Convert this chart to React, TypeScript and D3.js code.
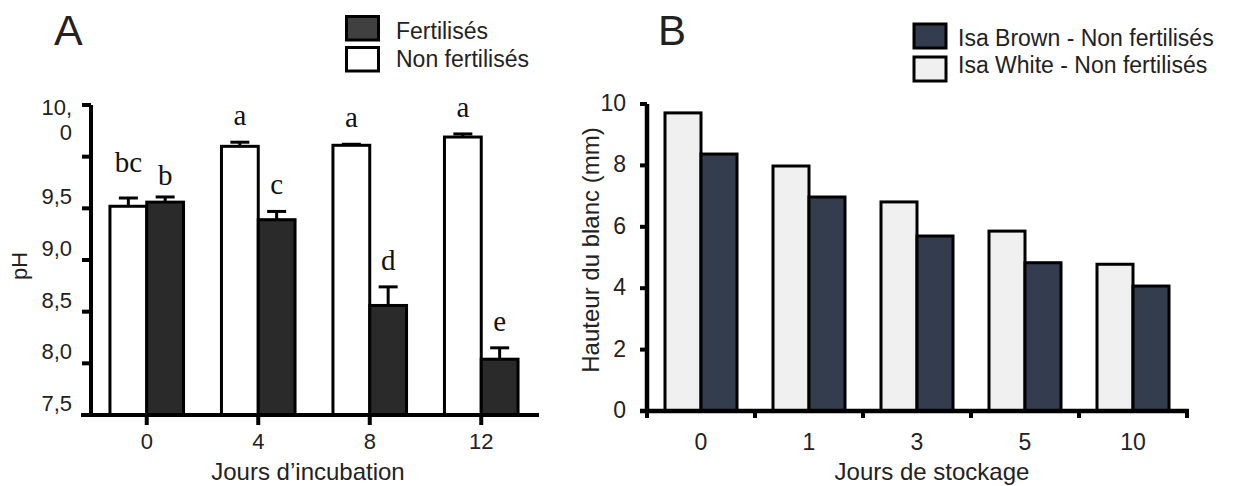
import React from "react";
import * as d3 from "d3";

// Panel A : pH du blanc pendant l'incubation
const daysA = ["0", "4", "8", "12"];
const seriesA = ["Fertilisés", "Non fertilisés"];
const nonFertilises = [9.52, 10.1, 10.11, 10.19];
const nonFertilisesErr = [0.08, 0.04, 0.01, 0.03];
const fertilises = [9.56, 9.39, 8.56, 8.04];
const fertilisesErr = [0.05, 0.08, 0.18, 0.11];
const lettersNon = ["bc", "a", "a", "a"];
const lettersFert = ["b", "c", "d", "e"];
const yTicksA = [7.5, 8, 8.5, 9, 9.5, 10, 10.5];
const yTickLabelsA = ["7,5", "8,0", "8,5", "9,0", "9,5", "10,0"];

// Panel B : hauteur du blanc pendant le stockage
const daysB = ["0", "1", "3", "5", "10"];
const seriesB = ["Isa Brown - Non fertilisés", "Isa White - Non fertilisés"];
const isaWhite = [9.71, 7.98, 6.81, 5.86, 4.78];
const isaBrown = [8.37, 6.97, 5.7, 4.83, 4.07];
const yTicksB = [0, 2, 4, 6, 8, 10];

const SANS = "'Liberation Sans', Arial, sans-serif";
const SERIF = "'Liberation Serif', 'Times New Roman', serif";
const INK = "#222";

function PanelA() {
  const x = d3.scaleBand().domain(daysA).range([91, 537]).padding(0);
  const y = d3.scaleLinear().domain([7.5, 10.5]).range([415, 105]);
  const barW = x.bandwidth() * 0.33;
  const cx = (d: string) => (x(d) as number) + x.bandwidth() / 2;
  // small shifts to keep the first pair of letters apart
  const nudge = (g: number, s: number) => (g === 0 ? (s === 0 ? -9 : 5) : 0);

  const series = [
    { vals: nonFertilises, err: nonFertilisesErr, letters: lettersNon, fill: "#ffffff", off: -1 },
    { vals: fertilises, err: fertilisesErr, letters: lettersFert, fill: "#2a2a2a", off: 0 },
  ];

  return (
    <g>
      <text x={54} y={45} fontSize={43} fontFamily={SANS} fill={INK}>A</text>

      {/* legend */}
      {seriesA.map((s, i) => (
        <g key={s}>
          <rect x={346.5} y={16.5 + i * 31} width={32} height={23.5}
            fill={i === 0 ? "#404040" : "#ffffff"} stroke="#000" strokeWidth={3} />
          <text x={396} y={39 + i * 28} fontSize={23} fontFamily={SANS} fill={INK}>{s}</text>
        </g>
      ))}

      {/* bars */}
      {series.map((s, si) =>
        daysA.map((d, i) => {
          const x0 = cx(d) + s.off * barW;
          const top = s.vals[i] + s.err[i];
          const bc = x0 + barW / 2;
          return (
            <g key={`${si}-${d}`}>
              <line x1={bc} x2={bc} y1={y(s.vals[i])} y2={y(top)} stroke="#000" strokeWidth={3} />
              <line x1={bc - 9.5} x2={bc + 9.5} y1={y(top)} y2={y(top)} stroke="#000" strokeWidth={3} />
              <rect x={x0} y={y(s.vals[i])} width={barW} height={y(7.5) - y(s.vals[i])}
                fill={s.fill} stroke="#000" strokeWidth={3} />
              <text x={bc} y={y(top) - 17 + nudge(i, si)} textAnchor="middle"
                fontSize={29} fontFamily={SERIF} fill="#111">{s.letters[i]}</text>
            </g>
          );
        })
      )}

      {/* y axis */}
      <line x1={91} x2={91} y1={y(10.5)} y2={y(7.5)} stroke="#000" strokeWidth={4} />
      {yTicksA.map((t) => (
        <line key={t} x1={82} x2={91} y1={y(t)} y2={y(t)} stroke="#000" strokeWidth={4} />
      ))}
      {yTickLabelsA.map((lab, i) => {
        const ty = y(yTicksA[i]);
        if (lab.length > 3) {
          const [a, b] = lab.split(",");
          return (
            <g key={lab}>
              <text x={72} y={ty - 42} textAnchor="end" fontSize={22} fontFamily={SANS} fill={INK}>{a + ","}</text>
              <text x={72} y={ty - 17} textAnchor="end" fontSize={22} fontFamily={SANS} fill={INK}>{b}</text>
            </g>
          );
        }
        return (
          <text key={lab} x={72} y={ty - 4} textAnchor="end" fontSize={22} fontFamily={SANS} fill={INK}>{lab}</text>
        );
      })}
      <text transform="translate(27,266) rotate(-90)" textAnchor="middle" fontSize={22}
        fontFamily={SANS} fill={INK}>pH</text>

      {/* x axis */}
      <line x1={81} x2={539} y1={415} y2={415} stroke="#000" strokeWidth={4} />
      {daysA.map((d) => (
        <g key={d}>
          <line x1={cx(d)} x2={cx(d)} y1={415} y2={425} stroke="#000" strokeWidth={4} />
          <text x={cx(d)} y={449} textAnchor="middle" fontSize={22} fontFamily={SANS} fill={INK}>{d}</text>
        </g>
      ))}
      <text x={308} y={480} textAnchor="middle" fontSize={24} fontFamily={SANS} fill={INK}>
        Jours d’incubation
      </text>
    </g>
  );
}

function PanelB() {
  const x = d3.scaleBand().domain(daysB).range([647, 1187]).padding(0);
  const y = d3.scaleLinear().domain([0, 10]).range([411, 104]);
  const barW = x.bandwidth() / 3;
  const cx = (d: string) => (x(d) as number) + x.bandwidth() / 2;

  const series = [
    { vals: isaWhite, fill: "#f0f0f0", off: -1 },
    { vals: isaBrown, fill: "#343d4e", off: 0 },
  ];

  return (
    <g>
      <text x={658} y={45} fontSize={42} fontFamily={SANS} fill={INK}>B</text>

      {seriesB.map((s, i) => (
        <g key={s}>
          <rect x={914} y={24 + i * 33} width={32} height={24}
            fill={i === 0 ? "#343d4e" : "#f0f0f0"} stroke="#000" strokeWidth={3} />
          <text x={958} y={46 + i * 27} fontSize={23} fontFamily={SANS} fill={INK}>{s}</text>
        </g>
      ))}

      {series.map((s, si) =>
        daysB.map((d, i) => (
          <rect key={`${si}-${d}`} x={cx(d) + s.off * barW} y={y(s.vals[i])} width={barW}
            height={y(0) - y(s.vals[i])} fill={s.fill} stroke="#000" strokeWidth={3} />
        ))
      )}

      <line x1={647} x2={647} y1={y(10)} y2={y(0)} stroke="#000" strokeWidth={4.5} />
      {yTicksB.map((t) => (
        <g key={t}>
          <line x1={640} x2={647} y1={y(t)} y2={y(t)} stroke="#000" strokeWidth={4} />
          <text x={626} y={y(t) + 7} textAnchor="end" fontSize={23} fontFamily={SANS} fill={INK}>{t}</text>
        </g>
      ))}
      <text transform="translate(599,250) rotate(-90)" textAnchor="middle" fontSize={24}
        fontFamily={SANS} fill={INK}>Hauteur du blanc (mm)</text>

      <line x1={640} x2={1189} y1={411} y2={411} stroke="#000" strokeWidth={4.5} />
      {daysB.map((d) => (
        <text key={d} x={cx(d)} y={450} textAnchor="middle" fontSize={23} fontFamily={SANS} fill={INK}>{d}</text>
      ))}
      {[...daysB.map((d) => x(d) as number), x.range()[1]].map((t, i) => (
        <line key={i} x1={t} x2={t} y1={411} y2={418} stroke="#000" strokeWidth={4} />
      ))}
      <text x={932} y={480} textAnchor="middle" fontSize={24} fontFamily={SANS} fill={INK}>
        Jours de stockage
      </text>
    </g>
  );
}

export default function App() {
  return (
    <svg width={1234} height={486} style={{ position: "absolute", left: 0, top: 0, background: "#fff" }}>
      <rect width={1234} height={486} fill="#fff" />
      <PanelA />
      <PanelB />
    </svg>
  );
}
